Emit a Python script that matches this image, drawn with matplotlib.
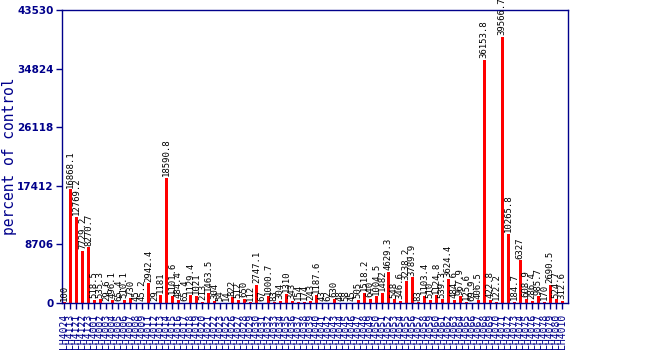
import matplotlib
matplotlib.use("Agg")
import matplotlib.pyplot as plt

# values (percent of control)
values = [
    100, 16868.1, 12769.2, 7729.2, 8270.7, 518.5, 535.3, 29.6, 496.1, 65.4,
    510.1, 730.0, 45.0, 45.2, 2942.4, 29, 1181, 18590.8, 1101.6, 484.4,
    65.4, 1129.4, 1021.0, 213.0, 1463.5, 304.0, 54.0, 14.0, 822.0, 512.0,
    650.0, 112.0, 2747.1, 67, 1000.7, 83.0, 304.0, 1310.0, 343.0, 154.0,
    174.0, 243.0, 1187.6, 43.0, 62.0, 630.0, 48.0, 58.0, 45.0, 505.0,
    1518.2, 640.0, 1004.5, 1482, 4629.3, 548, 346.6, 3238.2, 3789.9, 83.0,
    1103.4, 510.0, 1124.8, 539.3, 3624.4, 484.6, 967.9, 125.6, 69.9, 406.5,
    36153.8, 422.8, 122.2, 39566.7, 10265.8, 184.7, 6327, 608.9, 286.4, 985.7,
    170, 2690.5, 524.7, 312.6,
]

# sample ids (mostly unreadable in the reference, overlapping)
labels = [
    "LH4024", "LH4113", "LH4121", "LH4122", "LH4123", "LH4001", "LH4002", "LH4003", "LH4004", "LH4005",
    "LH4006", "LH4007", "LH4008", "LH4009", "LH4011", "LH4012", "LH4013", "LH4014", "LH4015", "LH4016",
    "LH4017", "LH4018", "LH4019", "LH4020", "LH4021", "LH4022", "LH4023", "LH4025", "LH4026", "LH4027",
    "LH4028", "LH4029", "LH4030", "LH4031", "LH4032", "LH4033", "LH4034", "LH4035", "LH4036", "LH4037",
    "LH4038", "LH4039", "LH4040", "LH4041", "LH4042", "LH4043", "LH4044", "LH4045", "LH4046", "LH4047",
    "LH4048", "LH4049", "LH4050", "LH4051", "LH4052", "LH4053", "LH4054", "LH4055", "LH4056", "LH4057",
    "LH4058", "LH4059", "LH4060", "LH4061", "LH4062", "LH4063", "LH4064", "LH4065", "LH4066", "LH4067",
    "LH4068", "LH4069", "LH4070", "LH4071", "LH4072", "LH4073", "LH4074", "LH4075", "LH4076", "LH4077",
    "LH4078", "LH4079", "LH4080", "LH4010",
]

yticks = [0, 8706, 17412, 26118, 34824, 43530]

navy = "#00008b"

fig = plt.figure(figsize=(6.5, 3.5), dpi=100)
ax = fig.add_axes([62 / 650, 47 / 350, 506 / 650, 293 / 350])

x = list(range(len(values)))
ax.bar(x, values, width=0.6, color="#ff0000", zorder=2)

# value labels above each bar
for xi, v in zip(x, values):
    txt = f"{v:g}" if float(v).is_integer() else f"{v:.1f}"
    ax.text(xi, v + 250, txt, rotation=90, ha="center", va="bottom",
            fontsize=6.5, family="DejaVu Sans Mono", color="black", zorder=3)

ax.set_xlim(-0.4, len(values) - 0.05)
ax.set_ylim(0, 43530)
ax.set_yticks(yticks)
ax.set_yticklabels([str(t) for t in yticks], fontsize=7.5, fontweight="bold",
                   color=navy, family="DejaVu Sans")
ax.set_xticks(x)
ax.set_xticklabels(labels, rotation=90, fontsize=7, color=navy,
                   family="DejaVu Sans Mono")

ax.set_ylabel("percent of control", fontsize=10.5, color=navy,
              family="DejaVu Sans Mono")
ax.yaxis.set_label_coords(-0.088, 0.5)

for s in ax.spines.values():
    s.set_color(navy)
    s.set_linewidth(1)
ax.tick_params(axis="both", colors=navy, length=4, width=1)
ax.tick_params(axis="y", pad=2)

fig.savefig("out.png", dpi=100)
